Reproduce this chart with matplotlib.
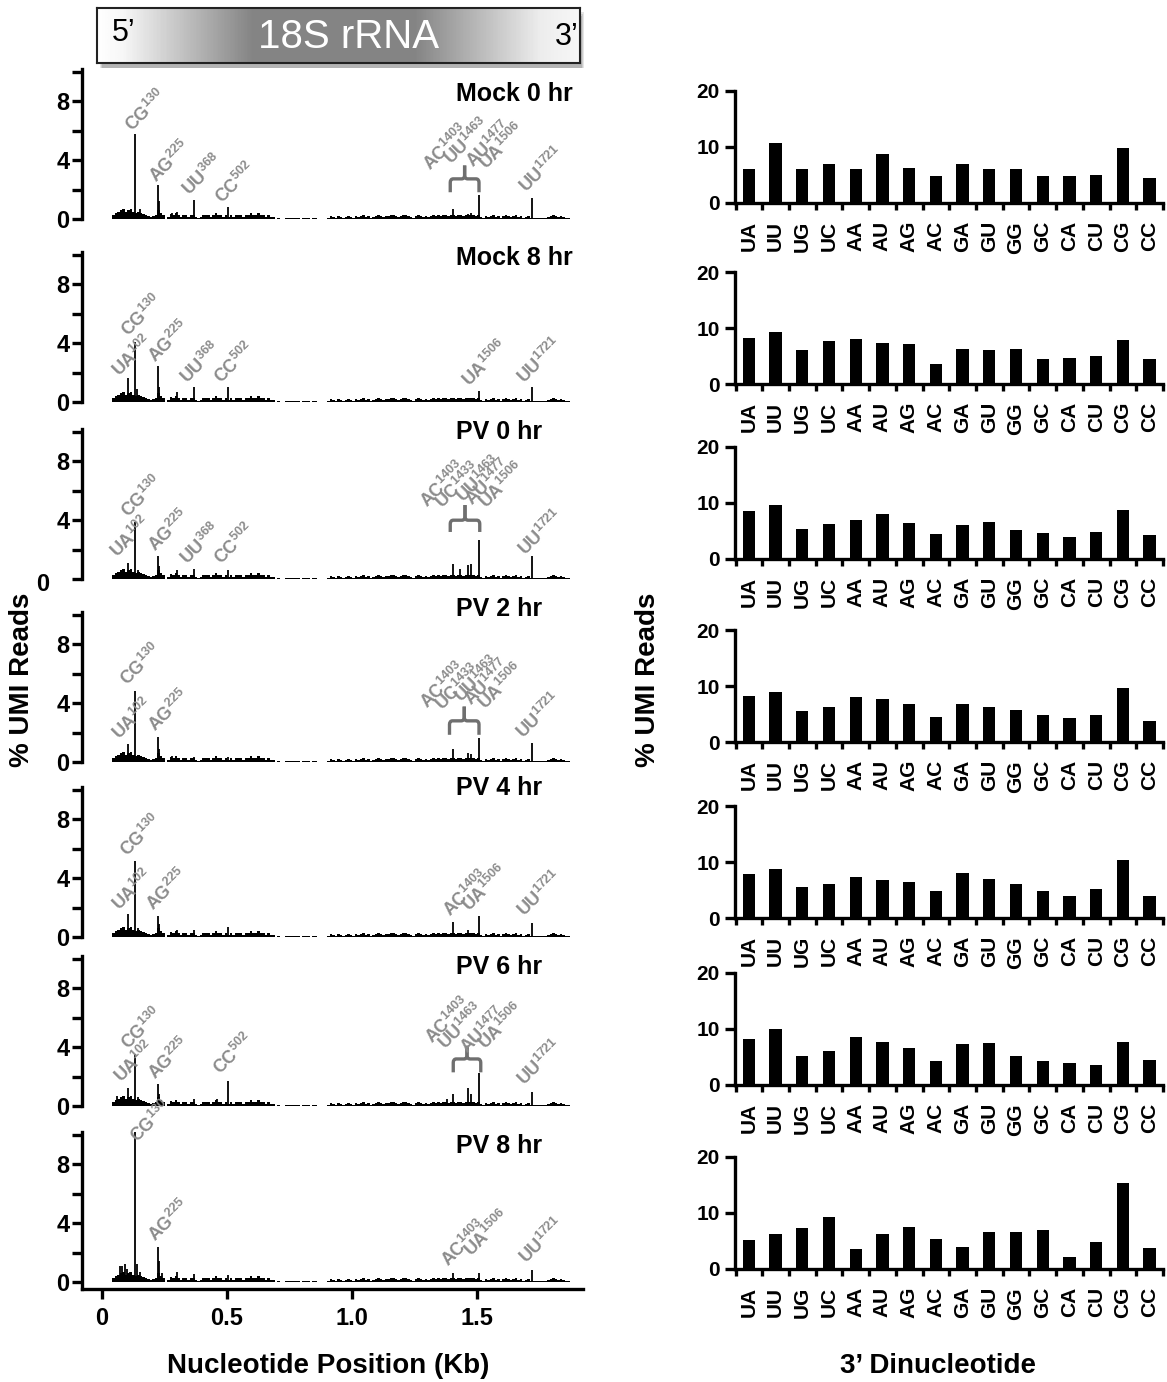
import numpy as np
import matplotlib
matplotlib.use('Agg')
import matplotlib.pyplot as plt
from matplotlib.path import Path
from matplotlib.patches import PathPatch, Rectangle
from matplotlib.colors import LinearSegmentedColormap

plt.rcParams['font.family'] = ['Liberation Sans', 'DejaVu Sans']
plt.rcParams['font.weight'] = 'bold'
plt.rcParams['mathtext.fontset'] = 'custom'
plt.rcParams['mathtext.rm'] = 'Liberation Sans'
plt.rcParams['mathtext.bf'] = 'Liberation Sans:bold'

# ---------------- data ----------------
samples = ['Mock 0 hr', 'Mock 8 hr', 'PV 0 hr', 'PV 2 hr', 'PV 4 hr', 'PV 6 hr', 'PV 8 hr']
dinucleotides = ['UA', 'UU', 'UG', 'UC', 'AA', 'AU', 'AG', 'AC',
                 'GA', 'GU', 'GG', 'GC', 'CA', 'CU', 'CG', 'CC']

dinuc_mock0 = [6.1, 10.8, 6.1, 7.0, 6.1, 8.8, 6.3, 4.85, 6.9, 6.0, 6.05, 4.8, 4.8, 5.0, 9.8, 4.5]
dinuc_mock8 = [8.2, 9.3, 6.1, 7.6, 8.0, 7.3, 7.1, 3.5, 6.3, 6.05, 6.2, 4.4, 4.7, 5.0, 7.85, 4.5]
dinuc_pv0 = [8.6, 9.6, 5.4, 6.3, 6.9, 8.0, 6.4, 4.55, 6.1, 6.6, 5.2, 4.7, 3.9, 4.85, 8.7, 4.2]
dinuc_pv2 = [8.3, 8.9, 5.5, 6.3, 8.0, 7.6, 6.7, 4.5, 6.7, 6.25, 5.8, 4.9, 4.2, 4.8, 9.7, 3.7]
dinuc_pv4 = [7.8, 8.75, 5.6, 6.0, 7.35, 6.7, 6.5, 4.75, 8.05, 6.95, 6.0, 4.8, 4.0, 5.1, 10.3, 3.9]
dinuc_pv6 = [8.2, 9.95, 5.2, 6.0, 8.5, 7.7, 6.55, 4.2, 7.35, 7.5, 5.25, 4.26, 4.0, 3.5, 7.65, 4.55]
dinuc_pv8 = [5.1, 6.3, 7.25, 9.35, 3.5, 6.2, 7.5, 5.3, 3.9, 6.6, 6.6, 6.9, 2.1, 4.9, 15.3, 3.8]

# low-level background reads along 18S rRNA (10-nt bins starting at nt 40)
bg_start_nt = 40
bg_reads = [
    0.25, 0.4, 0.5, 0.6, 0.7, 0.5, 0.6, 0.7, 0.5, 0.4,
    0.5, 0.4, 0.35, 0.25, 0.2, 0.15, 0.2, 0.25, 0.6, 0.4,
    0.25, 0.0, 0.15, 0.35, 0.25, 0.4, 0.25, 0.15, 0.25, 0.25,
    0.15, 0.3, 0.25, 0.15, 0.1, 0.15, 0.25, 0.3, 0.25, 0.15,
    0.25, 0.4, 0.25, 0.3, 0.15, 0.25, 0.15, 0.25, 0.15, 0.25,
    0.3, 0.25, 0.15, 0.3, 0.25, 0.4, 0.25, 0.3, 0.4, 0.25,
    0.25, 0.15, 0.25, 0.15, 0.15, 0.0, 0.08, 0.0, 0.0, 0.05,
    0.08, 0.05, 0.1, 0.05, 0.08, 0.03, 0.05, 0.08, 0.05, 0.03,
    0.05, 0.08, 0.03, 0.0, 0.0, 0.0, 0.1, 0.2, 0.15, 0.1,
    0.2, 0.15, 0.1, 0.12, 0.2, 0.15, 0.1, 0.2, 0.15, 0.2,
    0.25, 0.15, 0.2, 0.1, 0.15, 0.2, 0.25, 0.2, 0.15, 0.2,
    0.2, 0.25, 0.3, 0.2, 0.15, 0.2, 0.25, 0.3, 0.2, 0.15,
    0.1, 0.2, 0.25, 0.2, 0.15, 0.2, 0.15, 0.2, 0.25, 0.2,
    0.3, 0.2, 0.25, 0.3, 0.2, 0.25, 0.3, 0.2, 0.25, 0.3,
    0.2, 0.3, 0.25, 0.3, 0.3, 0.2, 0.25, 0.15, 0.1, 0.2,
    0.15, 0.2, 0.25, 0.15, 0.2, 0.1, 0.2, 0.25, 0.2, 0.15,
    0.2, 0.25, 0.15, 0.2, 0.1, 0.15, 0.2, 0.1, 0.05, 0.1,
    0.08, 0.05, 0.1, 0.05, 0.15, 0.2, 0.25, 0.2, 0.15, 0.2,
    0.15, 0.1, 0.05]

# notable peaks per sample (nucleotide position, % UMI reads)
peaks_mock0_pos = [102, 130, 150, 225, 229, 280, 300, 368, 420, 502, 1403, 1433, 1463, 1477, 1506, 1721]
peaks_mock0_val = [0.6, 5.8, 0.7, 2.3, 1.2, 0.4, 0.45, 1.3, 0.3, 0.8, 0.7, 0.3, 0.35, 0.4, 1.6, 1.45]
peaks_mock8_pos = [102, 130, 140, 225, 229, 300, 368, 502, 1506, 1721]
peaks_mock8_val = [1.6, 4.05, 0.9, 2.45, 1.0, 0.65, 1.0, 1.05, 0.75, 1.05]
peaks_pv0_pos = [102, 130, 145, 225, 229, 300, 368, 502, 1403, 1433, 1463, 1477, 1506, 1721]
peaks_pv0_val = [1.07, 3.9, 0.6, 1.55, 0.9, 0.6, 0.7, 0.6, 1.03, 0.7, 0.95, 1.0, 2.67, 1.55]
peaks_pv2_pos = [102, 130, 145, 225, 229, 280, 368, 502, 1403, 1433, 1463, 1477, 1506, 1721]
peaks_pv2_val = [1.25, 4.84, 0.5, 1.72, 0.9, 0.4, 0.35, 0.35, 0.86, 0.3, 0.6, 0.55, 1.6, 1.27]
peaks_pv4_pos = [102, 130, 145, 225, 229, 300, 368, 502, 1403, 1463, 1506, 1721]
peaks_pv4_val = [1.58, 5.14, 0.6, 1.4, 0.9, 0.5, 0.5, 0.7, 1.03, 0.5, 1.42, 0.96]
peaks_pv6_pos = [60, 102, 130, 145, 225, 229, 368, 460, 502, 1380, 1403, 1463, 1477, 1506, 1721]
peaks_pv6_val = [0.7, 1.23, 3.52, 0.6, 1.53, 0.8, 0.5, 0.5, 1.71, 0.5, 0.85, 1.23, 0.8, 2.26, 0.94]
peaks_pv8_pos = [60, 70, 80, 90, 100, 110, 130, 140, 150, 225, 229, 240, 300, 368, 502, 1403, 1506, 1721]
peaks_pv8_val = [0.4, 1.1, 1.1, 1.2, 0.9, 0.7, 10.2, 1.2, 0.7, 2.39, 1.45, 0.6, 0.65, 0.55, 0.5, 0.64, 0.64, 0.8]

# site annotations: (dinucleotide, position, label x in kb, label y in %)
labels_mock0 = [('CG', '130', 0.122, 5.9), ('AG', '225', 0.217, 2.4), ('UU', '368', 0.352, 1.5),
                ('CC', '502', 0.482, 0.95), ('AC', '1403', 1.316, 3.2), ('UU', '1463', 1.40, 3.6),
                ('AU', '1477', 1.485, 3.4), ('UA', '1506', 1.538, 3.3), ('UU', '1721', 1.699, 1.7)]
labels_mock8 = [('UA', '102', 0.069, 1.63), ('CG', '130', 0.107, 4.4), ('AG', '225', 0.214, 2.6),
                ('UU', '368', 0.341, 1.2), ('CC', '502', 0.478, 1.2), ('UA', '1506', 1.469, 0.95),
                ('UU', '1721', 1.691, 1.2)]
labels_pv0 = [('UA', '102', 0.061, 1.37), ('CG', '130', 0.107, 4.1), ('AG', '225', 0.214, 1.8),
              ('UU', '368', 0.341, 0.9), ('CC', '502', 0.478, 0.9), ('AC', '1403', 1.301, 4.8),
              ('UC', '1433', 1.362, 4.7), ('UU', '1463', 1.446, 5.1), ('AU', '1477', 1.482, 4.9),
              ('UA', '1506', 1.538, 4.7), ('UU', '1721', 1.694, 1.5)]
labels_pv2 = [('UA', '102', 0.069, 1.47), ('CG', '130', 0.104, 5.1), ('AG', '225', 0.214, 1.97),
              ('AC', '1403', 1.301, 3.55), ('UC', '1433', 1.362, 3.4), ('UU', '1463', 1.439, 4.0),
              ('AU', '1477', 1.477, 3.8), ('UA', '1506', 1.534, 3.5), ('UU', '1721', 1.687, 1.5)]
labels_pv4 = [('UA', '102', 0.069, 1.76), ('CG', '130', 0.104, 5.4), ('AG', '225', 0.207, 1.76),
              ('AC', '1403', 1.393, 1.3), ('UA', '1506', 1.472, 1.65), ('UU', '1721', 1.691, 1.3)]
labels_pv6 = [('UA', '102', 0.077, 1.53), ('CG', '130', 0.107, 3.8), ('AG', '225', 0.214, 1.76),
              ('CC', '502', 0.475, 2.1), ('AC', '1403', 1.324, 4.2), ('UU', '1463', 1.375, 3.8),
              ('AU', '1477', 1.462, 3.5), ('UA', '1506', 1.534, 3.8), ('UU', '1721', 1.691, 1.3)]
labels_pv8 = [('CG', '130', 0.141, 9.4), ('AG', '225', 0.214, 2.7), ('AC', '1403', 1.385, 1.0),
              ('UA', '1506', 1.477, 1.65), ('UU', '1721', 1.699, 1.2)]

# brace grouping sites 1403-1506: (left kb, right kb, leg bottom, bar level, tip)
brace_mock0 = (1.393, 1.508, 1.82, 2.73, 3.64)
brace_pv0 = (1.393, 1.511, 3.2, 4.0, 5.03)
brace_pv2 = (1.390, 1.508, 1.85, 2.8, 3.77)
brace_pv6 = (1.405, 1.515, 2.29, 3.2, 4.1)

panels = [
    (samples[0], peaks_mock0_pos, peaks_mock0_val, labels_mock0, brace_mock0, dinuc_mock0),
    (samples[1], peaks_mock8_pos, peaks_mock8_val, labels_mock8, None, dinuc_mock8),
    (samples[2], peaks_pv0_pos, peaks_pv0_val, labels_pv0, brace_pv0, dinuc_pv0),
    (samples[3], peaks_pv2_pos, peaks_pv2_val, labels_pv2, brace_pv2, dinuc_pv2),
    (samples[4], peaks_pv4_pos, peaks_pv4_val, labels_pv4, None, dinuc_pv4),
    (samples[5], peaks_pv6_pos, peaks_pv6_val, labels_pv6, brace_pv6, dinuc_pv6),
    (samples[6], peaks_pv8_pos, peaks_pv8_val, labels_pv8, None, dinuc_pv8),
]

# ---------------- layout ----------------
W, H = 1167, 1382
fig = plt.figure(figsize=(W / 100, H / 100), dpi=100)


def add_ax(left, top, right, bottom):
    return fig.add_axes([left / W, 1 - bottom / H, (right - left) / W, (bottom - top) / H])


left_zero = [219, 402, 579, 762, 937, 1106, 1282]
title_y = [94, 258, 432, 609, 788, 967, 1146]
right_zero = [203, 384, 559, 742, 918, 1085, 1269]
UNIT = 14.7
YTOP = 10.2
LBL_GRAY = '#8c8c8c'
BRACE_GRAY = '#6f6f6f'
SPW = 2.4

bg_kb = [(bg_start_nt + 10 * i) / 1000 for i in range(len(bg_reads))]

for i, (name, ppos, pval, labs, brace, dn) in enumerate(panels):
    z = left_zero[i]
    last = (i == len(panels) - 1)
    ylow = -0.5 if last else 0.0
    ax = add_ax(82, z - YTOP * UNIT, 583, z - ylow * UNIT)
    ax.set_xlim(-0.08, 1.924)
    ax.set_ylim(ylow, YTOP)
    ax.bar(bg_kb, bg_reads, width=0.010, align='edge', color='black', linewidth=0)
    ax.vlines(np.array(ppos) / 1000, 0, pval, color='black', linewidth=1.3)
    for txt, sup, lx, ly in labs:
        ax.text(lx, ly, r'$\mathbf{%s}^{%s}$' % (txt, sup), rotation=45, rotation_mode='anchor',
                ha='left', va='baseline', color=LBL_GRAY, fontsize=13, clip_on=False, zorder=5)
    if brace is not None:
        x0, x1, yb, yh, yt = brace
        xc = (x0 + x1) / 2
        dx, dy = 0.012, 0.25
        for sgn, xa in ((1, x0), (-1, x1)):
            verts = [(xa, yb), (xa, yh - dy), (xa, yh), (xa + sgn * dx, yh),
                     (xc - sgn * dx, yh), (xc, yh), (xc, yh + dy), (xc, yt)]
            codes = [Path.MOVETO, Path.LINETO, Path.CURVE3, Path.CURVE3,
                     Path.LINETO, Path.CURVE3, Path.CURVE3, Path.LINETO]
            ax.add_patch(PathPatch(Path(verts, codes), facecolor='none', edgecolor=BRACE_GRAY,
                                   linewidth=2.4, capstyle='butt', joinstyle='round', zorder=4))
    for s in ('top', 'right'):
        ax.spines[s].set_visible(False)
    ax.spines['left'].set_linewidth(SPW)
    ax.set_yticks([0, 2, 4, 6, 8, 10])
    ylabels = ['0', '', '4', '', '8', '']
    if i == 2:
        ylabels[0] = ''
        fig.text(43 / W, 1 - 584 / H, '0', ha='center', va='center', fontsize=17, fontweight='bold')
    ax.set_yticklabels(ylabels)
    ax.tick_params(axis='y', direction='out', length=7, width=SPW, labelsize=17, pad=2)
    if last:
        ax.spines['bottom'].set_linewidth(SPW)
        ax.set_xticks([0, 0.5, 1.0, 1.5])
        ax.set_xticklabels(['0', '0.5', '1.0', '1.5'])
        ax.tick_params(axis='x', direction='out', length=7, width=SPW, labelsize=17, pad=6)
    else:
        ax.spines['bottom'].set_visible(False)
        ax.set_xticks([])
    fig.text(456 / W, 1 - title_y[i] / H, name, ha='left', va='center', fontsize=18,
             fontweight='bold')

    # right: 3' dinucleotide distribution
    rz = right_zero[i]
    bx = add_ax(735, rz - 112, 1163, rz)
    bx.bar(np.arange(len(dinucleotides)), dn, width=0.46, color='black')
    bx.set_xlim(-0.52, 15.5)
    bx.set_ylim(0, 20)
    for s in ('top', 'right'):
        bx.spines[s].set_visible(False)
    bx.spines['left'].set_linewidth(SPW)
    bx.spines['bottom'].set_linewidth(SPW)
    bx.set_yticks([0, 10, 20])
    bx.tick_params(axis='y', direction='out', length=7, width=SPW, labelsize=15, pad=4)
    bx.set_xticks(np.arange(len(dinucleotides)))
    bx.set_xticklabels(dinucleotides, rotation=90, fontsize=15, fontweight='bold')
    bx.set_xticks(np.arange(-0.5, 16, 1), minor=True)
    bx.tick_params(axis='x', which='major', length=0, pad=13)
    bx.tick_params(axis='x', which='minor', direction='out', length=5, width=SPW)

# axis titles
fig.text(22 / W, 1 - 680 / H, '% UMI Reads', rotation=90, ha='center', va='center',
         fontsize=20, fontweight='bold')
fig.text(648 / W, 1 - 680 / H, '% UMI Reads', rotation=90, ha='center', va='center',
         fontsize=20, fontweight='bold')
fig.text(328 / W, 1 - 1366 / H, 'Nucleotide Position (Kb)', ha='center', va='center',
         fontsize=20, fontweight='bold')
fig.text(938 / W, 1 - 1366 / H, '3\u2019 Dinucleotide', ha='center', va='center',
         fontsize=20, fontweight='bold')

# header bar (18S rRNA schematic)
sh = add_ax(100, 12, 584, 68)
sh.set_xlim(0, 1); sh.set_ylim(0, 1); sh.axis('off')
for k, a in enumerate([0.10, 0.10, 0.12]):
    sh.add_patch(Rectangle((0.0 + 0.002 * k, 0.0), 1.0 - 0.004 * k, 1.0 - 0.04 * k,
                           facecolor='black', alpha=a, linewidth=0))
hx = add_ax(97, 8, 580, 63)
grad_pos = [0.0, 0.05, 0.32, 0.66, 0.92, 1.0]
grad_lvl = [1.0, 0.97, 0.52, 0.52, 0.93, 0.97]
cmap = LinearSegmentedColormap.from_list('hdr', [(p, (g, g, g)) for p, g in zip(grad_pos, grad_lvl)])
hx.imshow(np.linspace(0, 1, 400)[None, :], aspect='auto', cmap=cmap, extent=(0, 1, 0, 1))
hx.set_xlim(0, 1); hx.set_ylim(0, 1)
hx.set_xticks([]); hx.set_yticks([])
for s in hx.spines.values():
    s.set_linewidth(1.5)
    s.set_color('#222222')
hx.text(0.52, 0.47, '18S rRNA', ha='center', va='center', color='white', fontsize=29,
        fontweight='normal')
hx.text(0.03, 0.55, '5\u2019', ha='left', va='center', color='black', fontsize=22,
        fontweight='normal')
hx.text(0.997, 0.48, '3\u2019', ha='right', va='center', color='black', fontsize=22,
        fontweight='normal')

fig.savefig('out.png', dpi=100)
